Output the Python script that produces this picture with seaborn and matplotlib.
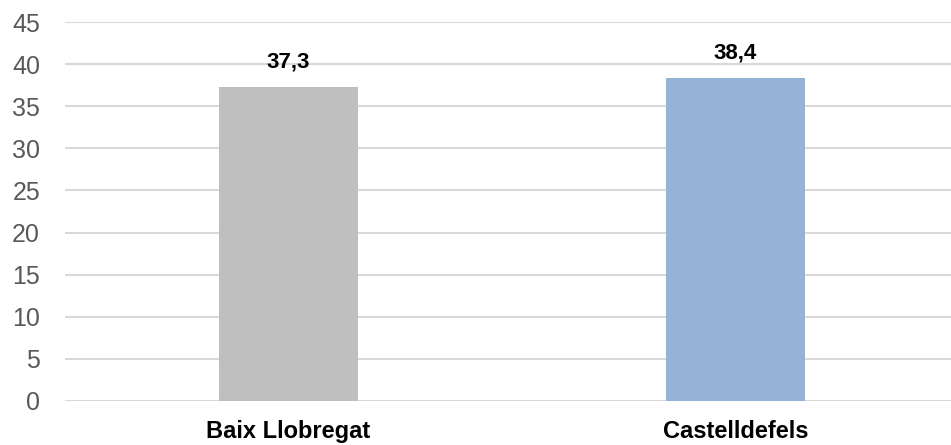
import pandas as pd
import matplotlib.pyplot as plt
import seaborn as sns

# data
regions = ["Baix Llobregat", "Castelldefels"]
values = [37.3, 38.4]
value_labels = ["37,3", "38,4"]
bar_colors = ["#BFBFBF", "#95B3D7"]
y_ticks = [0, 5, 10, 15, 20, 25, 30, 35, 40, 45]

df = pd.DataFrame({"region": regions, "value": values})

sns.set_style("white")
plt.rcParams["font.family"] = ["Liberation Sans", "DejaVu Sans"]

fig = plt.figure(figsize=(9.51, 4.45), dpi=100)
ax = fig.add_axes([65 / 951, 44 / 445, 886 / 951, 379 / 445])

sns.barplot(data=df, x="region", y="value", hue="region",
            palette=bar_colors, saturation=1, width=0.313, linewidth=0,
            legend=False, ax=ax, zorder=3)

for i, (v, lab) in enumerate(zip(values, value_labels)):
    ax.annotate(lab, (i, v), xytext=(0, 10), textcoords="offset points",
                ha="center", va="bottom", fontsize=16, fontweight="bold",
                color="#000000")

ax.set_xlim(-0.5, 1.482)
ax.set_ylim(0, 45)
ax.set_yticks(y_ticks)
ax.grid(axis="y", color="#D9D9D9", linewidth=1.5, zorder=0)
ax.set_axisbelow(True)
for s in ax.spines.values():
    s.set_visible(False)

ax.tick_params(axis="y", length=0, pad=18, labelsize=18, labelcolor="#595959")
ax.tick_params(axis="x", length=0, pad=14, labelsize=17)
for t in ax.get_xticklabels():
    t.set_fontweight("bold")
    t.set_color("#000000")
ax.set_xlabel("")
ax.set_ylabel("")

fig.savefig("out.png", dpi=100)
